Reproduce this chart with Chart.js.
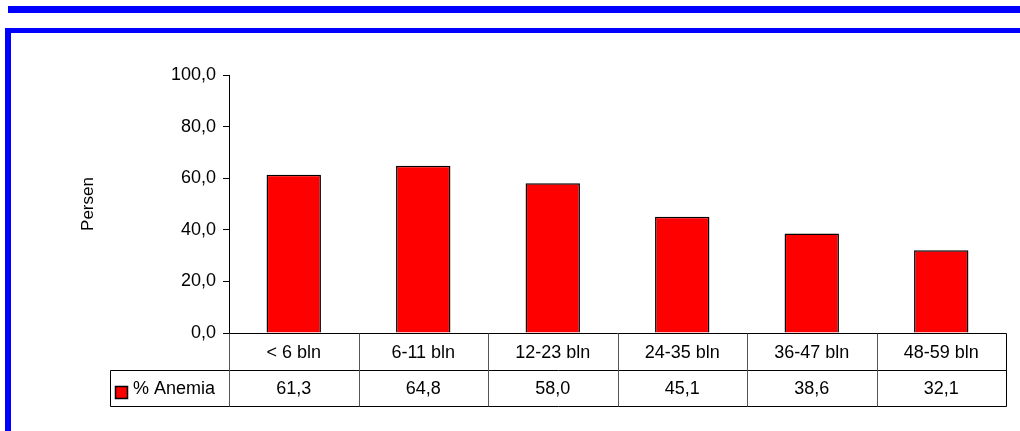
<!DOCTYPE html>
<html>
<head>
<meta charset="utf-8">
<script src="https://cdn.jsdelivr.net/npm/chart.js@4/dist/chart.umd.min.js"></script>
<style>
  body { margin: 0; background: #fff; }
  #wrap { position: relative; width: 1020px; height: 431px; overflow: hidden; }
  #chart { position: absolute; left: 0; top: 0; }
  .rule { position: absolute; background: #0000ff; }
</style>
</head>
<body>
<div id="wrap">
  <canvas id="chart" width="1020" height="431"></canvas>
  <div class="rule" style="left:8px; top:6px; width:1012px; height:7px;"></div>
  <div class="rule" style="left:5px; top:28px; width:1015px; height:5px;"></div>
  <div class="rule" style="left:5px; top:28px; width:6px; height:403px;"></div>
</div>
<script>
const categories = ['< 6 bln', '6-11 bln', '12-23 bln', '24-35 bln', '36-47 bln', '48-59 bln'];
const anemiaValues = [61.3, 64.8, 58.0, 45.1, 38.6, 32.1];
const seriesLabel = '% Anemia';
const yMin = 0;
const yMax = 100;
const yStep = 20;

const FONT = 'Liberation Sans, Arial, sans-serif';

function formatComma(v) {
    return v.toFixed(1).replace('.', ',');
}

// data table under the plot: category row, then legend key + values
const dataTable = {
    id: 'dataTable',
    afterDraw(chart) {
        const ctx = chart.ctx;
        const area = chart.chartArea;
        const xScale = chart.scales.x;
        const colW = (area.right - area.left) / categories.length;
        const row1 = Math.round(area.bottom) + 0.5;
        const row2 = row1 + 37;
        const row3 = row2 + 36;
        const keyLeft = 110.5;
        const right = Math.round(area.right) + 0.5;

        ctx.save();
        ctx.strokeStyle = '#000';
        ctx.lineWidth = 1;

        ctx.beginPath();
        ctx.moveTo(area.left, row1); ctx.lineTo(right, row1);
        ctx.moveTo(keyLeft, row2); ctx.lineTo(right, row2);
        ctx.moveTo(keyLeft, row3); ctx.lineTo(right, row3);
        ctx.moveTo(keyLeft, row2); ctx.lineTo(keyLeft, row3);
        ctx.moveTo(right, row1); ctx.lineTo(right, row3);
        ctx.stroke();

        // column dividers
        ctx.strokeStyle = '#555';
        ctx.beginPath();
        for (let i = 0; i < categories.length; i++) {
            const edge = Math.round(xScale.getPixelForValue(i) - colW / 2) + 0.5;
            ctx.moveTo(edge, row1); ctx.lineTo(edge, row3);
        }
        ctx.stroke();

        ctx.fillStyle = '#000';
        ctx.font = '18px ' + FONT;
        ctx.textAlign = 'center';
        ctx.textBaseline = 'middle';
        categories.forEach((c, i) => {
            const cx = xScale.getPixelForValue(i);
            ctx.fillText(c, cx, (row1 + row2) / 2 + 1);
            ctx.fillText(formatComma(anemiaValues[i]), cx, (row2 + row3) / 2 + 1);
        });

        // legend key
        const ds = chart.data.datasets[0];
        ctx.fillStyle = ds.backgroundColor;
        ctx.fillRect(115.5, 386.5, 12, 12);
        ctx.strokeStyle = '#000';
        ctx.lineWidth = 1.5;
        ctx.strokeRect(115.5, 386.5, 12, 12);
        ctx.fillStyle = '#000';
        ctx.textAlign = 'left';
        ctx.fillText(ds.label, 133, (row2 + row3) / 2 + 1);
        ctx.restore();
    }
};

new Chart(document.getElementById('chart'), {
    type: 'bar',
    data: {
        labels: categories,
        datasets: [{
            label: seriesLabel,
            data: anemiaValues,
            backgroundColor: '#ff0000',
            borderColor: '#000',
            borderWidth: 1.5,
            borderSkipped: 'bottom',
            barPercentage: 0.42,
            categoryPercentage: 1
        }]
    },
    options: {
        responsive: false,
        animation: false,
        layout: { padding: { left: 0, top: 75, right: 14, bottom: 98 } },
        plugins: {
            legend: { display: false },
            tooltip: { enabled: false }
        },
        scales: {
            x: {
                display: false
            },
            y: {
                min: yMin,
                max: yMax,
                afterFit(scale) { scale.width = 229; },
                border: { display: true, color: '#000', width: 1 },
                grid: { drawOnChartArea: false, tickLength: 6, color: '#000' },
                ticks: {
                    stepSize: yStep,
                    padding: 7,
                    color: '#000',
                    font: { family: FONT, size: 18 },
                    callback: v => formatComma(v)
                },
                title: {
                    display: true,
                    text: 'Persen',
                    color: '#000',
                    font: { family: FONT, size: 17 },
                    padding: { top: 78, bottom: 0 }
                }
            }
        }
    },
    plugins: [dataTable]
});
</script>
</body>
</html>
